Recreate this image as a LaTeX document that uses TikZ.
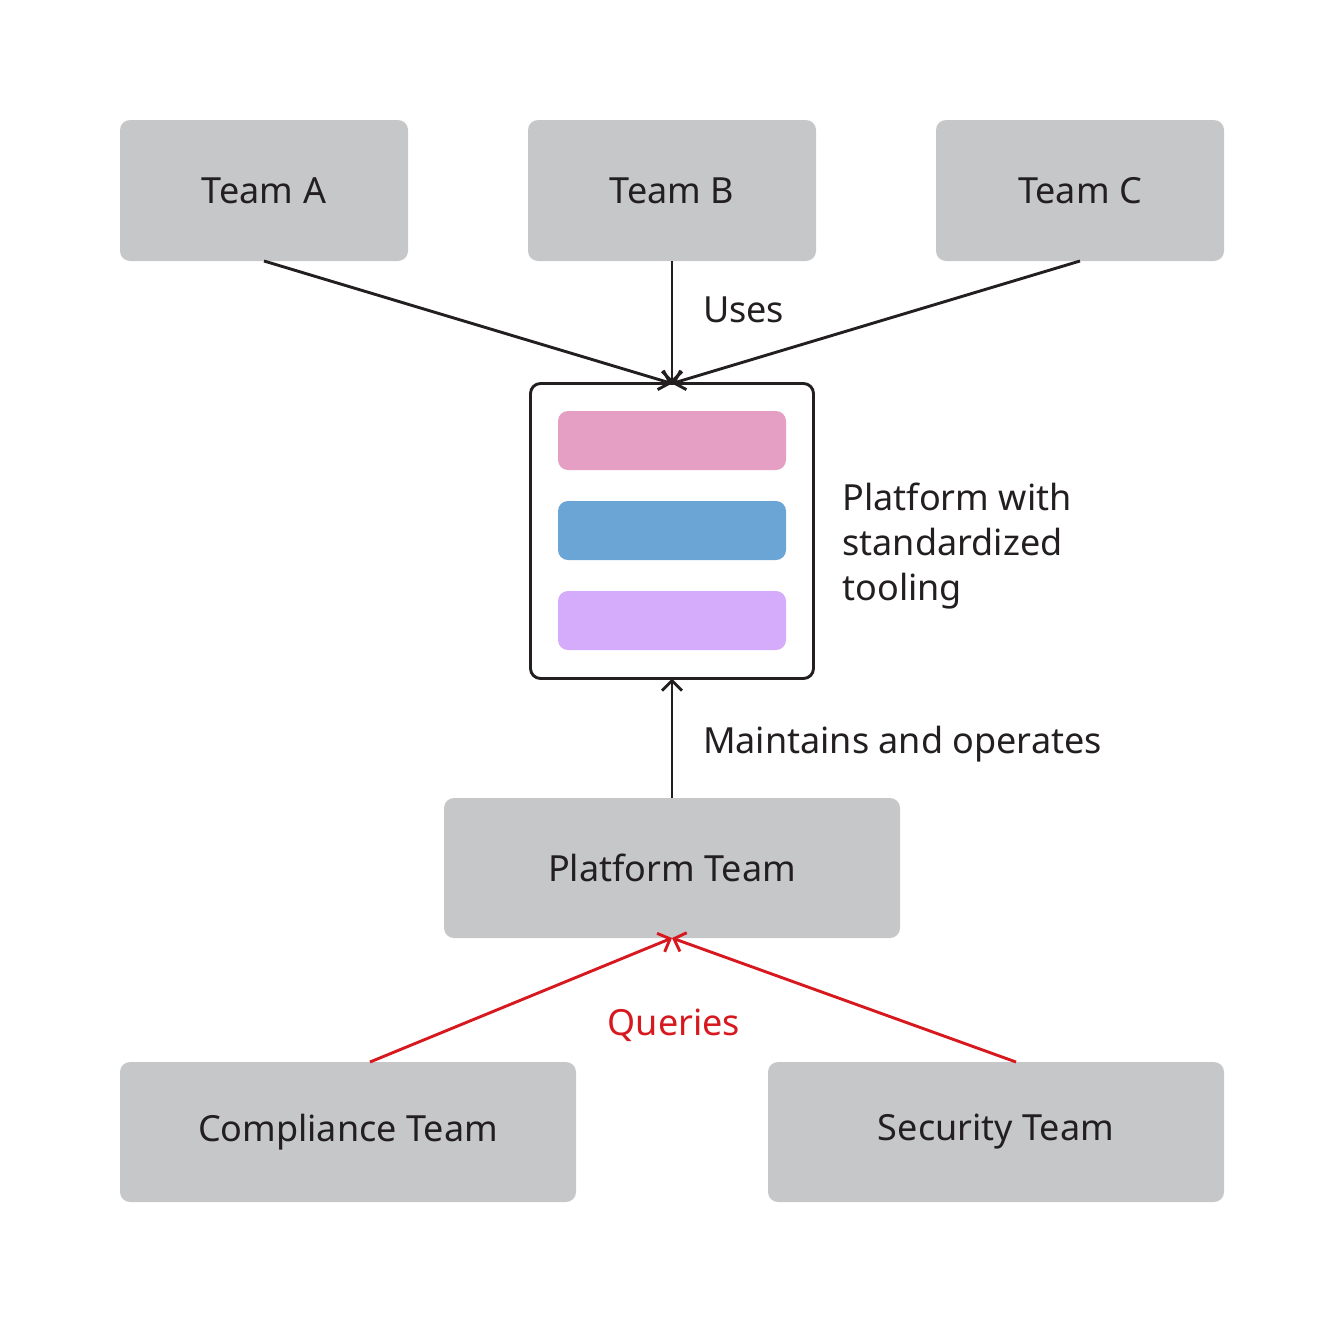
\documentclass[tikz,border=0pt]{standalone}
\usepackage{fontspec}
\setmainfont{Noto Sans}
\usepackage{tikz}
\usetikzlibrary{arrows.meta,positioning}
\definecolor{teamgray}{HTML}{C6C7C9}
\definecolor{inkdark}{HTML}{231F20}
\definecolor{barpink}{HTML}{E69FC4}
\definecolor{barblue}{HTML}{6BA5D6}
\definecolor{barlilac}{HTML}{D5ABFC}
\definecolor{queryred}{HTML}{D7191F}

\begin{document}
\begin{tikzpicture}
          [x=0.5pt,y=-0.5pt,>={Straight Barb[length=5pt,width=10pt]},line width=1.45pt,
           font=\fontsize{18}{22.5}\selectfont,text=inkdark,every node/.style={outer sep=0pt}]
          \tikzstyle{team}=[fill=teamgray,draw=none,rounded corners=5pt,minimum width=144pt,minimum height=70.5pt,inner sep=0pt]
          \tikzstyle{wide team}=[team,minimum width=228pt,minimum height=70pt]
          \tikzstyle{tool}=[draw=none,rounded corners=5pt,minimum width=114pt,minimum height=29.5pt,inner sep=0pt]
          \tikzstyle{note}=[inner sep=0pt,align=left]
          \useasboundingbox (0,0) rectangle (1344,1323);

          \node[team] (teamB) at (672,190.5) {Team B};
          \node[team] (teamA) [left=60pt of teamB] {Team A};
          \node[team] (teamC) [right=60pt of teamB] {Team C};

          \node[draw=inkdark,fill=white,rounded corners=5pt,minimum width=141.5pt,minimum height=147.5pt] (platform) [below=61.25pt of teamB] {};
          \node[tool,fill=barpink] (tool1) [below=13.75pt of platform.north] {};
          \node[tool,fill=barblue] (tool2) [below=15.5pt of tool1] {};
          \node[tool,fill=barlilac] (tool3) [below=15.5pt of tool2] {};
          \node[note] (platnote) [right=14.5pt of platform,yshift=-7.5pt] {Platform with\\standardized\\tooling};

          \node[wide team] (ptteam) [below=59.75pt of platform] {Platform Team};
          \node[wide team] (compliance) [below=62pt of ptteam,xshift=-162pt] {Compliance Team};
          \node[wide team] (security) [below=62pt of ptteam,xshift=162pt] {Security Team};

          \path[->,color=inkdark]
          (teamA.south) edge (platform.north)
          (teamB.south) edge node[note,pos=0.4,right=15.5pt] {Uses} (platform.north)
          (teamC.south) edge (platform.north)
          (ptteam.north) edge node[note,pos=0.45,right=15.5pt] {Maintains and operates} (platform.south)
          ;

          \path[->,color=queryred]
          ([xshift=11pt]compliance.north) edge (ptteam.south)
          ([xshift=10pt]security.north) edge (ptteam.south)
          ;
          \node[note,text=queryred] (queries) at (674,1025) {Queries};
        \end{tikzpicture}
\end{document}
